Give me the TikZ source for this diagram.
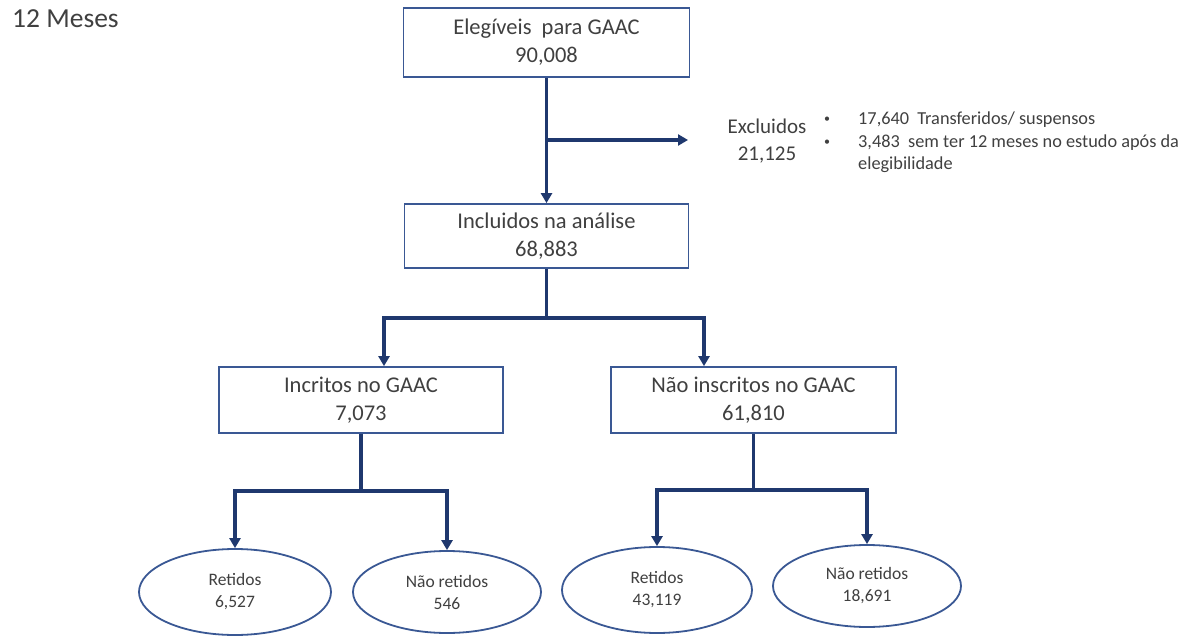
\documentclass[tikz,border=0pt]{standalone}
\usepackage{fontspec}
\setmainfont{Carlito}
\usetikzlibrary{arrows.meta,shapes.geometric,calc}
\definecolor{navy}{RGB}{31,56,110}
\definecolor{boxblue}{RGB}{58,88,148}
\definecolor{txt}{RGB}{64,64,64}
\begin{document}
\begin{tikzpicture}[x=1pt,y=-1pt,
  box/.style={draw=boxblue,line width=1.8pt,fill=white,inner sep=0pt,align=center,text=txt,
    font=\fontsize{22.5}{28}\selectfont},
  ell/.style={ellipse,draw=boxblue,line width=1.8pt,fill=white,inner sep=0pt,align=center,text=txt,
    font=\fontsize{17.5}{22}\selectfont},
  conn/.style={draw=navy,line width=3.2pt},
  arr/.style={conn,-{Triangle[width=11pt,length=10pt]}},
  lbl/.style={inner sep=0pt,text=txt},
  bul/.style={lbl,font=\fontsize{12}{14}\selectfont}]
\useasboundingbox (0,0) rectangle (1186,636);
\fill[white] (0,0) rectangle (1186,636);

\node[lbl,anchor=base west,font=\fontsize{27.5}{33}\selectfont] (title) at (12,28) {12 Meses};

\node[box,minimum width=286pt,minimum height=69pt] (b1) at (546.5,42.5) {Elegíveis\ \ para GAAC\\90,008};
\node[box,minimum width=284pt,minimum height=64pt] (b2) at (546.5,236) {Incluidos na análise\\68,883};
\node[box,minimum width=284pt,minimum height=66pt] (inc) at (361,400) {Incritos no GAAC\\7,073};
\node[box,minimum width=285pt,minimum height=66pt] (nao) at (753.5,400) {Não inscritos no GAAC\\61,810};

\node[ell,minimum width=192pt,minimum height=86pt] (r1) at (235,592) {Retidos\\6,527};
\node[ell,minimum width=188pt,minimum height=82pt] (n1) at (447,592) {Não retidos\\546};
\node[ell,minimum width=190pt,minimum height=86pt] (r2) at (657,590) {Retidos\\43,119};
\node[ell,minimum width=188pt,minimum height=82pt] (n2) at (867,586) {Não retidos\\18,691};

\node[lbl,align=center,font=\fontsize{21}{27}\selectfont] (exl) at (767,141) {Excluidos\\21,125};
\node[bul] (bu1) at (827,120) {•};
\node[bul] (bu2) at (827,143) {•};
\node[lbl,anchor=base west,font=\fontsize{18.3}{22}\selectfont] (t1) at (858,125) {17,640\ \ Transferidos/ suspensos};
\node[lbl,anchor=base west,font=\fontsize{18.3}{22}\selectfont] (t2) at (858,148) {3,483\ \ sem ter 12 meses no estudo após da};
\node[lbl,anchor=base west,font=\fontsize{18.3}{22}\selectfont] (t3) at (858,170) {elegibilidade};

% connectors
\draw[arr] (b1.south) -- (b2.north);
\coordinate (exj) at (546.5,140);
\coordinate (exe) at (688,140);
\draw[arr] (exj) -- (exe);

\coordinate (s1) at (546.5,318);
\draw[conn] (b2.south) -- (s1);
\draw[arr] (s1) -| ([xshift=23pt]inc.north);
\draw[arr] (s1) -| ([xshift=-49.5pt]nao.north);

\coordinate (s2) at (361,491);
\draw[conn] (inc.south) -- (s2);
\draw[arr] (s2) -| (r1.north);
\draw[arr] (s2) -| (n1.north);

\coordinate (s3) at (753.5,490);
\draw[conn] (nao.south) -- (s3);
\draw[arr] (s3) -| (r2.north);
\draw[arr] (s3) -| (n2.north);
\end{tikzpicture}
\end{document}
